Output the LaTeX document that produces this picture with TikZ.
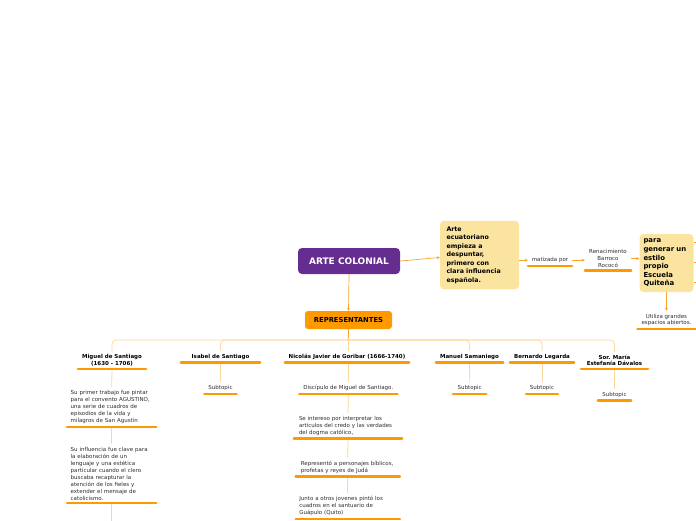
\documentclass[tikz,border=0pt]{standalone}
\usepackage{fontspec}
\setmainfont{DejaVu Sans}
\usetikzlibrary{arrows.meta}
\definecolor{purp}{RGB}{102,45,145}
\definecolor{ylw}{RGB}{250,228,160}
\definecolor{orng}{RGB}{255,153,0}
\definecolor{lorng}{RGB}{253,215,155}
\definecolor{aorng}{RGB}{250,165,45}
\definecolor{txt}{RGB}{45,45,45}
\tikzset{
  small/.style={font=\fontsize{5.5}{7}\selectfont, text=txt},
  topic/.style={small, inner xsep=0pt, inner ysep=3pt, align=center, anchor=south},
  ltopic/.style={topic, align=left},
  head/.style={topic, font=\bfseries\fontsize{5.5}{6.5}\selectfont, text=black},
  uline/.style={orng, line width=2.2pt, line cap=round},
  conn/.style={lorng, line width=0.8pt},
  connd/.style={aorng, line width=0.8pt},
  arr/.style={aorng, line width=0.7pt, -{Stealth[length=3pt,width=3pt]}},
  purpbox/.style={fill=purp, text=white, rounded corners=4pt, inner sep=0pt,
    font=\bfseries\fontsize{9}{9}\selectfont},
  repbox/.style={fill=orng, text=black, rounded corners=3pt, inner sep=0pt,
    font=\bfseries\fontsize{6.8}{6.8}\selectfont},
  ybox/.style={fill=ylw, text=black, rounded corners=4pt, inner sep=0pt, align=left},
}
\begin{document}
\begin{tikzpicture}[x=1pt,y=-1pt]
\useasboundingbox (0,0) rectangle (696,520);

% main nodes
\node[purpbox, minimum width=102pt, minimum height=26pt] (arte) at (349,261) {ARTE COLONIAL};
\node[repbox, minimum width=87pt, minimum height=18pt] (rep) at (348.5,320) {REPRESENTANTES};
\node[ybox, minimum width=79pt, minimum height=68.5pt, text width=66pt,
  font=\bfseries\fontsize{6.3}{8.5}\selectfont] (y1) at (479.5,255)
  {Arte\\ecuatoriano\\empieza a\\despuntar,\\primero con\\clara influencia\\española.};
\node[ybox, minimum width=54pt, minimum height=58pt, text width=46pt,
  font=\bfseries\fontsize{6.9}{8.6}\selectfont] (y2) at (666.5,263)
  {para\\generar un\\estilo\\propio\\Escuela\\Quiteña};

% upper topics
\node[topic, minimum width=44pt] (mat) at (550,266) {matizada por};
\node[topic, minimum width=46pt, font=\fontsize{5.5}{6.7}\selectfont] (ren) at (608,270.5) {Renacimiento\\Barroco\\Rococó};
\node[topic, minimum width=58pt, font=\fontsize{5.5}{6.5}\selectfont] (uti) at (666.5,329) {Utiliza grandes\\espacios abiertos.};

\draw[arr] (arte.east) -- (y1.west |- 0,257.5);
\draw[arr] (y1.east |- mat.west) -- (mat.west);
\draw[arr] (mat.east) -- (ren.west |- mat.east);
\draw[arr] (ren.east) -- (y2.west |- ren.east);
\draw[arr] (y2.south) -- (uti.north);
\coordinate (r1) at (704,242);
\coordinate (r2) at (704,262);
\coordinate (r3) at (704,282);
\draw[arr] (y2.east |- r1) -- (r1);
\draw[arr] (y2.east |- r2) -- (r2);
\draw[arr] (y2.east |- r3) -- (r3);
\draw[arr] (arte.south) -- (rep.north);

% representatives
\node[head, minimum width=68pt] (mig) at (112,369) {Miguel de Santiago\\(1630 - 1706)};
\node[head, minimum width=79pt] (isa) at (220.5,362.5) {Isabel de Santiago};
\node[head, minimum width=124pt] (nic) at (347,362.5) {Nicolás Javier de Goribar (1666-1740)};
\node[head, minimum width=67pt] (man) at (469.5,362.5) {Manuel Samaniego};
\node[head, minimum width=64pt] (ber) at (542,362.5) {Bernardo Legarda};
\node[head, minimum width=67pt] (sor) at (614.5,369) {Sor. María\\Estefanía Dávalos};

\coordinate (bus) at (348.3,340);
\draw[connd] (rep.south) -- (bus);
\foreach \n in {mig,isa,man,ber,sor}
  \draw[conn, rounded corners=4pt] (bus) -| (\n.north);
\draw[conn] (bus) -- (bus |- nic.north);

% subtopics
\node[topic, minimum width=32pt] (isa1) at (220.5,394) {Subtopic};
\node[topic, minimum width=33pt] (man1) at (469.7,394) {Subtopic};
\node[topic, minimum width=32pt] (ber1) at (542,394) {Subtopic};
\node[topic, minimum width=33pt] (sor1) at (614.5,400.5) {Subtopic};

\node[ltopic, minimum width=89pt, text width=82pt] (mig1) at (111.7,427)
  {Su primer trabajo fue pintar\\para el convento AGUSTINO,\\una serie de cuadros de\\episodios de la vida y\\milagros de San Agustín};
\node[ltopic, minimum width=89pt, text width=82pt] (mig2) at (111.7,503.3)
  {Su influencia fue clave para\\la elaboración de un\\lenguaje y una estética\\particular cuando el clero\\buscaba recapturar la\\atención de los fieles y\\extender el mensaje de\\catolicismo.};

\node[topic, minimum width=98pt] (nic1) at (348.3,394) {Discípulo de Miguel de Santiago.};
\node[ltopic, minimum width=108pt, text width=98pt] (nic2) at (348,438.5)
  {Se intereso por interpretar los\\artículos del credo y las verdades\\del dogma católico,};
\node[ltopic, minimum width=104pt, text width=94pt] (nic3) at (347.8,476.5)
  {Representó a personajes bíblicos,\\profetas y reyes de Judá};
\node[ltopic, minimum width=104pt, text width=97pt] (nic4) at (347.8,519.3)
  {Junto a otros jovenes pintó los\\cuadros en el santuario de\\Guápulo (Quito)};

\coordinate (mbot) at (111.7,530);
\draw[conn] (mig.south) -- (mig1.north);
\draw[conn] (mig1.south) -- (mig2.north);
\draw[conn] (mig2.south) -- (mbot);
\draw[conn] (isa.south) -- (isa1.north);
\draw[conn] (man.south) -- (man1.north);
\draw[conn] (ber.south) -- (ber1.north);
\draw[conn] (sor.south) -- (sor1.north);
\draw[conn] (nic.south -| nic1.north) -- (nic1.north);
\draw[conn] (nic1.south) -- (nic2.north);
\draw[conn] (nic2.south) -- (nic3.north);
\draw[conn] (nic3.south) -- (nic4.north);

% underlines
\foreach \n in {mat,ren,uti,mig,isa,nic,man,ber,sor,isa1,man1,ber1,sor1,mig1,mig2,nic1,nic2,nic3,nic4}
  \draw[uline] (\n.south west) -- (\n.south east);
\end{tikzpicture}
\end{document}
